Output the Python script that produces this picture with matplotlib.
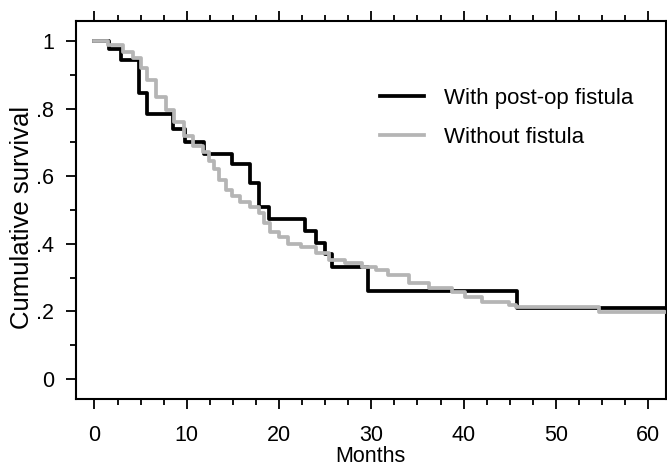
import numpy as np
import matplotlib
matplotlib.use("Agg")
import matplotlib.pyplot as plt
from matplotlib.ticker import FixedLocator

# Kaplan-Meier steps (months, cumulative survival)
t_with = [0, 1.6, 2.9, 4.8, 5.7, 8.5, 9.8, 11.9, 14.9, 16.9, 17.8, 18.9,
          22.8, 24.0, 25.0, 25.7, 29.6, 45.8, 62]
s_with = [1.0, 0.977, 0.945, 0.845, 0.785, 0.74, 0.70, 0.666, 0.636, 0.58,
          0.509, 0.473, 0.438, 0.402, 0.37, 0.331, 0.26, 0.21, 0.21]

t_without = [0, 1.5, 3.1, 4.2, 5.0, 5.65, 6.7, 7.7, 8.6, 9.7, 10.7, 11.8,
             12.4, 12.9, 13.5, 14.2, 14.9, 15.8, 16.9, 17.8, 18.4, 19.0,
             20.0, 21.0, 22.4, 24.0, 25.4, 27.2, 29.0, 30.5, 31.8, 34.1,
             36.2, 38.7, 40.2, 42.0, 44.9, 45.7, 54.7, 62]
s_without = [1.0, 0.988, 0.967, 0.95, 0.92, 0.885, 0.835, 0.796, 0.76, 0.72,
             0.69, 0.67, 0.645, 0.62, 0.589, 0.56, 0.54, 0.524, 0.51, 0.49,
             0.46, 0.435, 0.42, 0.40, 0.39, 0.373, 0.352, 0.343, 0.331, 0.322,
             0.308, 0.284, 0.27, 0.257, 0.243, 0.228, 0.219, 0.213, 0.198, 0.198]

x_major = [0, 10, 20, 30, 40, 50, 60]
x_minor = np.arange(0, 62, 2.5)
y_major = [0, 0.2, 0.4, 0.6, 0.8, 1.0]
y_minor = np.arange(0, 1.05, 0.1)
y_labels = ["0", ".2", ".4", ".6", ".8", "1"]

plt.rcParams['font.family'] = ['Liberation Sans', 'DejaVu Sans']

fig = plt.figure(figsize=(6.67, 4.66), dpi=100)
ax = fig.add_axes([0.114, 0.144, 0.884, 0.811])

ax.step(t_with, s_with, where='post', color='black', lw=2.7,
        label='With post-op fistula', zorder=2)
ax.step(t_without, s_without, where='post', color='#b5b5b5', lw=2.7,
        label='Without fistula', zorder=3)

ax.set_xlim(-2.0, 61.9)
ax.set_ylim(-0.059, 1.059)

ax.xaxis.set_major_locator(FixedLocator(x_major))
ax.xaxis.set_minor_locator(FixedLocator(x_minor))
ax.set_yticks(y_major)
ax.set_yticklabels(y_labels)
ax.yaxis.set_minor_locator(FixedLocator(y_minor))

ax.tick_params(which='both', direction='out', top=True, labelsize=15.5,
               width=1.3, color='black')
ax.tick_params(which='major', length=7)
ax.tick_params(which='minor', length=4)
ax.tick_params(axis='x', which='major', pad=12)
ax.tick_params(axis='y', which='major', pad=9)
ax.tick_params(axis='y', which='both', right=False)

for sp in ax.spines.values():
    sp.set_linewidth(1.5)

ax.set_xlabel("Months", fontsize=15.5, labelpad=0)
ax.set_ylabel("Cumulative survival", fontsize=18.5)
ax.yaxis.set_label_coords(-0.072, 0.48)

ax.legend(loc='upper left', bbox_to_anchor=(380 / 667, 1 - 88 / 466),
          bbox_transform=fig.transFigure, frameon=False, fontsize=16,
          handlelength=2.0, handletextpad=0.9, labelspacing=0.82,
          borderpad=0, borderaxespad=0)

fig.savefig("out.png", dpi=100)
